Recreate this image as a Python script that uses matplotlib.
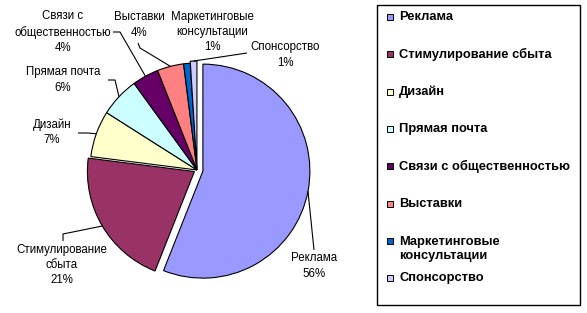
import math
import matplotlib
matplotlib.use("Agg")
import matplotlib.pyplot as plt
from matplotlib.patches import Rectangle

plt.rcParams['font.family'] = ['Liberation Sans', 'DejaVu Sans']

# ---- data ----
categories = ["Реклама", "Стимулирование сбыта", "Дизайн", "Прямая почта",
              "Связи с общественностью", "Выставки",
              "Маркетинговые консультации", "Спонсорство"]
shares = [56, 21, 7, 6, 4, 4, 1, 1]
pie_labels = ["Реклама", "Стимулирование\nсбыта", "Дизайн", "Прямая почта",
              "Связи с\nобщественностью", "Выставки",
              "Маркетинговые\nконсультации", "Спонсорство"]
legend_labels = ["Реклама", "Стимулирование сбыта", "Дизайн", "Прямая почта",
                 "Связи с общественностью", "Выставки",
                 "Маркетинговые\nконсультации", "Спонсорство"]

# ---- style / layout ----
colors = ["#9999FF", "#993366", "#FFFFCC", "#CCFFFF",
          "#660066", "#FF8080", "#0066CC", "#CCCCFF"]
W, H = 587, 313
cx, cy, R = 197, H - 170, 107
explode = [6, 3, 0, 0, 0, 0, 0, 2]

# label centres (image px, y from top)
label_pos = [(314, 266), (62, 265), (52, 132), (63, 80),
             (63, 32), (139, 25), (212, 32), (285, 55)]
# leader waypoints after the wedge edge point (image px)
leader_pts = [[(314, 250)],
              [(63, 234), (63, 241)],
              [(88, 133), (78, 133)],
              [(115, 80), (108, 80)],
              [(120, 32), (113, 32)],
              [(140, 48), (138, 43)],
              [],
              [(247, 53)]]

fig = plt.figure(figsize=(W / 100, H / 100), dpi=100)
ax = fig.add_axes([0, 0, 1, 1])
wedges, _ = ax.pie(shares, colors=colors, startangle=90, counterclock=False,
                   center=(cx, cy), radius=R, explode=explode,
                   wedgeprops=dict(edgecolor='black', linewidth=0.8))
ax.set_xlim(0, W)
ax.set_ylim(0, H)
ax.set_aspect('equal')
ax.axis('off')

for w, lab, s, (lx, ly), pts in zip(wedges, pie_labels, shares, label_pos, leader_pts):
    thm = math.radians(0.5 * (w.theta1 + w.theta2))
    ex, ey = w.center
    px = ex + R * math.cos(thm)
    py = ey + R * math.sin(thm)
    if pts:
        xs = [px] + [p[0] for p in pts]
        ys = [py] + [H - p[1] for p in pts]
        ax.plot(xs, ys, color='black', lw=0.8, solid_capstyle='butt')
    ax.text(lx, H - ly, f"{lab}\n{s}%", ha='center', va='center',
            fontsize=8.3, linespacing=1.38, color='black')

# ---- legend box ----
ax.add_patch(Rectangle((377, H - 305), 203, 300, facecolor='white',
                       edgecolor='black', lw=1.0))
leg_y = [17, 54, 92, 129, 166, 204, 249, 278]
for c, lab, y in zip(colors, legend_labels, leg_y):
    yy = H - y
    sq_y = yy + 8 if '\n' in lab else yy
    ax.add_patch(Rectangle((387, sq_y - 3), 6, 6, facecolor=c,
                           edgecolor='black', lw=0.7))
    ax.text(399, yy, lab, ha='left', va='center', fontsize=9.3,
            fontweight='bold', linespacing=1.3, color='black')

fig.savefig("out.png", dpi=100)
